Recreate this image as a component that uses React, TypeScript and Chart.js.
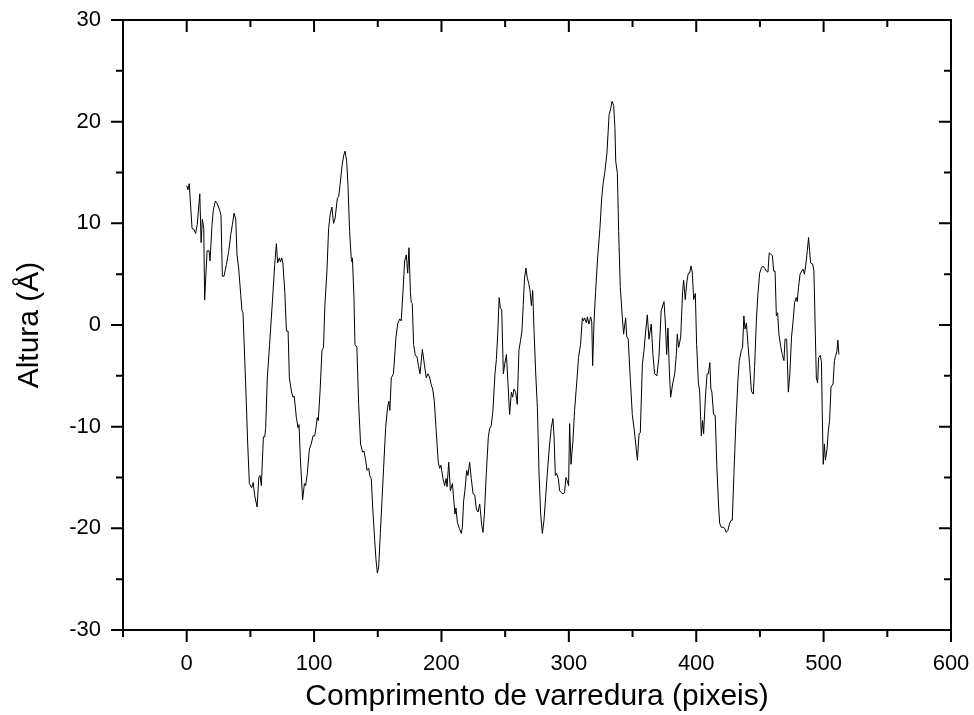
import React, { useEffect, useRef } from "react";
import { Chart, registerables } from "chart.js";

Chart.register(...registerables);

// Scan position (pixels) and height (Å)
const scanX: number[] = [
  0, 1, 2, 4.2, 5.7, 7, 8.3, 10.3, 11.3, 12.3, 13.4, 14.1, 16, 17.6, 18.3, 19.9,
  20.9, 22.5, 24.1, 25.9, 26.9, 28, 29.3, 31.2, 33, 34.6, 35.9, 37.2, 38.5, 39.5,
  40.8, 42.4, 43.4, 44.2, 46.3, 47.9, 49.2, 51, 52.2, 53.4, 55.3, 56.6, 57.6, 58.6,
  60.2, 61.3, 62, 63.3, 65.1, 67.3, 69.1, 70.4, 71.4, 72.7, 73.6, 74.6, 75.5, 77,
  78.3, 79.6, 80.6, 82.2, 83.4, 84.4, 86.1, 87.4, 88.2, 89.2, 91, 92.4, 93.4, 94.7, 96.3,
  97.8, 99.2, 100.5, 101.5, 102.5, 103.3, 104.7, 106.2, 107.4, 108.5, 110.1, 111.4,
  112.7, 114, 115.3, 116.5, 118.3, 119.3, 120.4, 122, 123.3, 124.3, 125.6, 126.6,
  127.9, 129.3, 129.8, 130.1, 131.3, 132.1, 133.6, 135, 136.5, 138.1, 139.2,
  140.5, 141.6, 142.9, 143.7, 144.9, 146, 147.6, 148.6, 149.7, 150.7, 152, 153.3,
  154.6, 156.2, 157.7, 158.7, 159.5, 160.6, 162.3, 164.3, 165.6, 167.2, 168.4, 169.8,
  171.1, 172.4, 173.5, 174.5, 175.6, 176.3, 177.1, 178.1, 179.5, 180.8, 181.9, 183.2,
  185, 186.6, 188.1, 189.3, 190.6, 191.8, 193.1, 194.4, 195.7, 197.5, 198.6,
  199.6, 201.2, 202.5, 203.6, 204.4, 205.7, 207, 208.6, 209.6, 210.6, 211.4,
  212.5, 214, 215.6, 216.4, 217.4, 218.4, 219.8, 220.8, 222.1, 223.4, 224.8, 226.1,
  227.4, 228.7, 230, 230.8, 231.6, 232.6, 233.7, 235.2, 236.8, 237.8, 239.1,
  240.4, 242, 243.1, 244.2, 245.3, 246.2, 247.3, 248.6, 249.6, 251, 252, 253.5,
  254.9, 255.9, 256.9, 258.2, 259.5, 260.8, 262.1, 263.2, 264.2, 265.2, 266.3, 267.4,
  268.5, 269.5, 270.6, 271.6, 272.7, 274, 275.3, 276.6, 277.9, 279.2, 280.5,
  281.8, 283.1, 284.7, 286.2, 287.5, 288.4, 289.4, 290.4, 291.7, 292.8, 294.1, 295.4,
  296.6, 297.7, 298.7, 299.8, 300.6, 301.7, 303.2, 304.5, 306.1, 307.6, 309.2,
  310.6, 311.5, 312.3, 313.8, 314.5, 315.8, 317.1, 318, 318.7, 319.7, 321, 322.6,
  324.4, 325.8, 327, 328.3, 329.9, 331.6, 332.9, 333.9, 335.2, 336.2, 336.8,
  338.1, 339.1, 340.4, 342, 343, 344.6, 345.4, 346.6, 348.2, 349.8, 351.4, 352.5,
  353.8, 355.1, 356.1, 357.7, 359, 360.3, 361.6, 362.9, 364.7, 366, 367.3, 369.1,
  370.7, 372.5, 374.7, 375.8, 376.8, 377.8, 378.9, 379.9, 381.5, 383.1, 384.4, 385.1,
  386.2, 387.8, 389.3, 390.1, 391.4, 392.7, 393.8, 394.8, 395.9, 396.9, 398, 399.3,
  400.3, 401.7, 402.7, 404, 405, 405.8, 407.2, 408.5, 409.5, 410.7, 411.5,
  412.3, 413.6, 414.9, 416.2, 417.6, 418.4, 419.7, 421, 422.3, 423.6, 424.9, 426.2,
  427.5, 428.3, 429.6, 431.1, 432.7, 433.8, 435.4, 436.4, 437.4, 438.3, 439.4,
  440.6, 441.9, 443.3, 444.8, 445.8, 447.2, 448.4, 449.8, 451.1, 452.4, 453.7,
  455, 456.3, 457.3, 458.4, 459.8, 460.8, 461.9, 462.9, 463.9, 464.9, 466.3,
  467.6, 468.9, 469.7, 471, 472.3, 473.5, 474.8, 476.2, 477.2, 478.5, 479.3, 480.3,
  481.5, 482.8, 483.8, 484.9, 485.9, 487.2, 488.2, 489, 489.8, 491.4, 492.4,
  493.5, 494.3, 495.3, 496.1, 497.4, 498.3, 498.9, 499.7, 500.6, 501.4, 502.7, 503.7,
  504.7, 505.8, 507.4, 508.5, 509.5, 510.4, 511.2, 512,
];

const heightY: number[] = [
  13.7, 13.3, 13.9, 9.5, 9.4, 9.0, 9.9, 12.9, 8.1, 10.4, 9.5, 2.45, 7.3, 7.3, 6.3, 9.9,
  11.3, 12.2, 11.9, 11.3, 10.8, 4.8, 4.8, 5.95, 7.25, 8.9, 9.9, 11.0, 10.4, 6.9,
  5.6, 3.0, 1.4, 1.2, -5.8, -11.7, -15.6, -16.0, -15.5, -16.8, -17.9, -15.0, -14.8, -15.8,
  -11.0, -11.0, -10.1, -5.2, -1.9, 2.35, 5.95, 8.0, 6.1, 6.6, 6.2, 6.6, 6.1, 3.3,
  -0.6, -0.6, -5.2, -6.5, -7.1, -7.0, -9.1, -10.1, -9.8, -13.0, -17.2, -15.6, -15.8, -14.6, -12.2,
  -11.7, -10.9, -10.9, -10.1, -9.1, -9.4, -6.5, -2.5, -2.2, 2.0, 5.3, 9.5,
  10.9, 11.6, 10.0, 10.5, 12.5, 12.6, 13.8, 15.7, 16.7, 17.1, 16.1, 13.8,
  9.2, 6.3, 6.2, 6.6, 2.7, -1.9, -2.2, -7.8, -11.7, -12.5, -12.4,
  -13.3, -14.3, -14.1, -14.8, -15.1, -17.9, -21.2, -23.1, -24.4, -23.8, -20.5, -17.3,
  -14.0, -10.1, -8.1, -7.5, -8.4, -5.2, -4.8, -1.2, 0.1, 0.6, 0.4, 3.3,
  6.3, 6.9, 5.1, 7.6, 3.3, 2.2, 2.1, -1.9, -3.0, -3.1, -4.0, -4.8,
  -2.4, -3.9, -5.2, -4.8, -5.1, -5.8, -6.3, -7.5, -10.1, -13.5, -14.1,
  -13.8, -15.1, -15.8, -15.1, -15.9, -13.5, -16.3, -15.6, -17.1, -18.6, -18.0,
  -19.4, -20.0, -20.5, -19.9, -17.3, -16.3, -14.3, -14.8, -13.5, -15.1, -16.6, -16.7,
  -18.1, -18.4, -17.6, -18.6, -19.7, -20.4, -18.6, -14.6, -11.0, -10.2, -9.9,
  -8.4, -4.8, -3.4, -0.8, 2.7, 1.7, 1.5, -4.8, -3.9, -2.9, -5.2, -8.8,
  -6.6, -7.1, -6.3, -6.6, -7.8, -2.5, -1.5, -0.6, 2.0, 4.6, 5.6, 4.6,
  4.1, 3.4, 1.9, 3.4, -0.6, -4.8, -8.1, -14.6, -18.6, -20.5, -19.2,
  -16.9, -14.6, -12.0, -10.1, -9.2, -11.0, -14.8, -14.6, -15.1, -16.3, -16.5, -16.6,
  -16.5, -15.0, -15.3, -15.8, -9.7, -13.7, -11.4, -8.4, -5.8, -3.2, -1.9,
  0.7, 0.4, 0.7, 0.2, 0.8, 0.1, 0.8, 0.3, -4.0, 0.1, 3.3, 6.6,
  9.5, 12.5, 14.0, 15.1, 16.9, 20.7, 21.3, 22.0, 21.6, 19.3, 16.1,
  14.9, 9.2, 3.7, 0.7, -0.9, 0.7, -1.1, -1.4, -5.2, -8.8, -10.4, -11.7,
  -13.3, -10.7, -10.6, -3.9, -2.5, -0.6, 1.0, -1.4, 0.1, -2.9, -4.8, -5.0,
  -3.2, 1.4, 2.3, 0.1, -2.9, -0.3, -4.5, -7.1, -5.8, -4.8, -2.9, -0.9,
  -2.2, -1.2, 3.3, 4.4, 2.5, 4.3, 5.1, 5.1, 5.8, 5.2, 2.5, 3.1,
  -1.9, -5.7, -6.5, -10.9, -9.4, -10.7, -7.1, -4.8, -4.8, -3.7, -6.3,
  -6.6, -8.8, -8.9, -14.0, -17.9, -19.5, -19.9, -19.9, -20.0, -20.4, -20.2, -19.5,
  -19.2, -19.2, -14.6, -9.7, -5.5, -3.5, -2.5, -2.2, 0.9, -0.4, 0.2,
  -1.9, -3.9, -6.5, -6.8, -4.2, 0.4, 3.0, 5.1, 5.6, 5.8, 5.6,
  5.3, 5.2, 7.1, 7.0, 6.8, 5.3, 5.3, 0.9, 1.2, -0.9, -2.1,
  -2.9, -3.5, -1.4, -1.4, -6.6, -4.8, -1.2, 0.6, 2.2, 2.7, 2.3, 3.7,
  5.0, 5.3, 5.5, 5.0, 5.8, 7.3, 8.6, 7.3, 6.1, 6.0, 5.3,
  -0.9, -5.2, -5.7, -3.2, -3.0, -3.6, -8.4, -13.7, -11.7, -13.3, -12.2, -10.4,
  -9.4, -6.1, -5.8, -3.5, -3.0, -2.6, -1.5, -2.9,
];

const xTickValues: number[] = [0, 100, 200, 300, 400, 500, 600];
const yTickValues: number[] = [-30, -20, -10, 0, 10, 20, 30];
const xMinorValues: number[] = [-50, 50, 150, 250, 350, 450, 550];
const yMinorValues: number[] = [-25, -15, -5, 5, 15, 25];

const xTitle = "Comprimento de varredura (pixeis)";
const yTitle = "Altura (Å)";

const FONT = "'Liberation Sans', Arial, Helvetica, sans-serif";

const framePlugin = {
  id: "originFrame",
  afterDraw(chart: any) {
    const { ctx, chartArea } = chart;
    const { left, right, top, bottom } = chartArea;
    const xs = chart.scales.x;
    const ys = chart.scales.y;
    const MAJ = 12;
    const MIN = 7;
    ctx.save();
    ctx.strokeStyle = "#000";
    ctx.lineWidth = 2;
    ctx.lineCap = "butt";
    ctx.strokeRect(left, top, right - left, bottom - top);
    ctx.beginPath();
    const xt = (v: number, len: number) => {
      const p = xs.getPixelForValue(v);
      ctx.moveTo(p, bottom);
      ctx.lineTo(p, bottom + len);
      ctx.moveTo(p, top);
      ctx.lineTo(p, top + len);
    };
    const yt = (v: number, len: number) => {
      const p = ys.getPixelForValue(v);
      ctx.moveTo(left - len, p);
      ctx.lineTo(left, p);
      ctx.moveTo(right, p);
      ctx.lineTo(right - len, p);
    };
    xTickValues.forEach((v) => xt(v, MAJ));
    xMinorValues.forEach((v) => xt(v, MIN));
    yTickValues.forEach((v) => yt(v, MAJ));
    yMinorValues.forEach((v) => yt(v, MIN));
    ctx.stroke();
    ctx.restore();
  },
};

export default function App() {
  const ref = useRef<HTMLCanvasElement | null>(null);

  useEffect(() => {
    if (!ref.current) return;
    const points = scanX.map((x, i) => ({ x, y: heightY[i] }));
    const chart = new Chart(ref.current, {
      type: "line",
      data: {
        datasets: [
          {
            data: points,
            borderColor: "#000",
            borderWidth: 1,
            pointRadius: 0,
            tension: 0,
            fill: false,
          },
        ],
      },
      options: {
        animation: false,
        responsive: false,
        maintainAspectRatio: false,
        devicePixelRatio: 1,
        layout: { padding: { top: 20, right: 23, left: 0, bottom: 0 } },
        plugins: {
          legend: { display: false },
          tooltip: { enabled: false },
          title: { display: false },
        },
        scales: {
          x: {
            type: "linear",
            min: -50,
            max: 600,
            afterBuildTicks: (scale: any) => {
              scale.ticks = xTickValues.map((v) => ({ value: v }));
            },
            afterFit: (scale: any) => {
              scale.height = 85;
              scale.paddingLeft = 0;
              scale.paddingRight = 0;
            },
            grid: { display: true, drawOnChartArea: false, drawTicks: false },
            border: { display: false },
            ticks: {
              autoSkip: false,
              maxRotation: 0,
              padding: 21,
              color: "#000",
              font: { family: FONT, size: 22 },
              callback: (v: any) => String(v),
            },
            title: {
              display: true,
              text: xTitle,
              color: "#000",
              font: { family: FONT, size: 30 },
              padding: { top: 0, bottom: 0 },
            },
          },
          y: {
            type: "linear",
            min: -30,
            max: 30,
            afterBuildTicks: (scale: any) => {
              scale.ticks = yTickValues.map((v) => ({ value: v }));
            },
            afterFit: (scale: any) => {
              scale.width = 123;
              scale.paddingTop = 0;
              scale.paddingBottom = 0;
            },
            grid: { display: true, drawOnChartArea: false, drawTicks: false },
            border: { display: false },
            ticks: {
              autoSkip: false,
              padding: 22,
              color: "#000",
              font: { family: FONT, size: 22 },
              callback: (v: any) => String(v),
            },
            title: {
              display: true,
              text: yTitle,
              color: "#000",
              font: { family: FONT, size: 30 },
              padding: { top: 12, bottom: 0 },
            },
          },
        },
      },
      plugins: [framePlugin],
    });
    return () => chart.destroy();
  }, []);

  return (
    <div style={{ position: "absolute", left: 0, top: 0, width: 974, height: 715, background: "#fff" }}>
      <canvas ref={ref} width={974} height={715} style={{ width: 974, height: 715, display: "block" }} />
    </div>
  );
}
